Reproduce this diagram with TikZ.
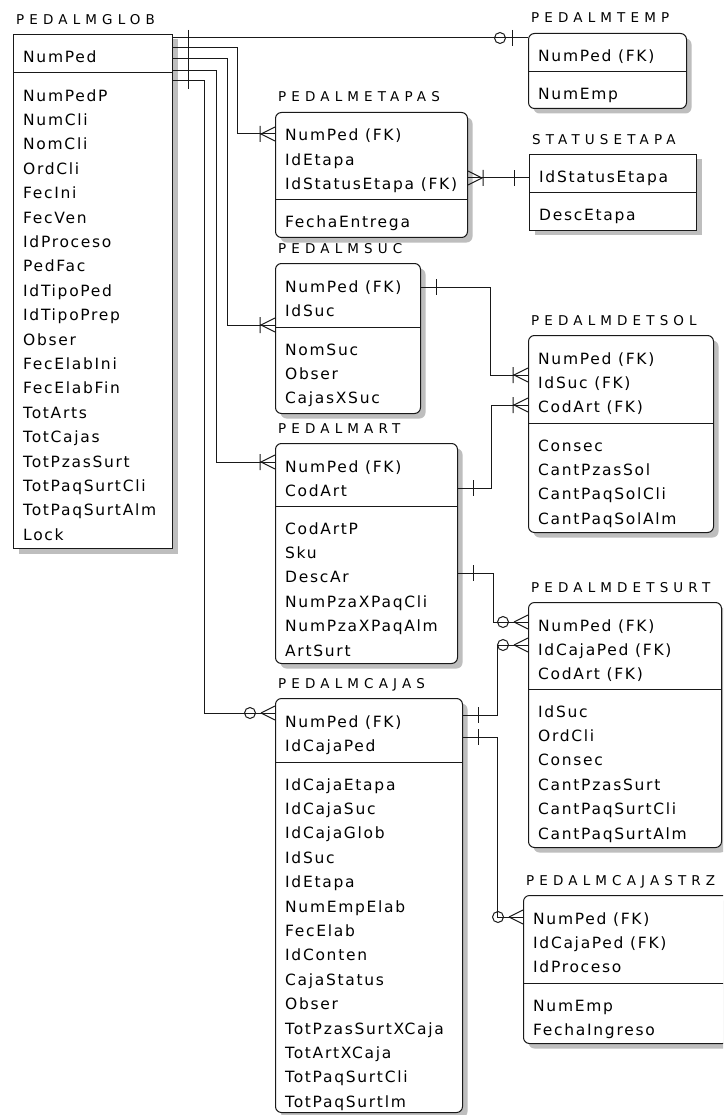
\documentclass[tikz,border=0pt]{standalone}
\usepackage{fontspec}
\usepackage{tikz}
\usetikzlibrary{positioning, calc, shadows}
\newfontfamily\erfont{DejaVu Sans}[LetterSpace=11]
\newfontfamily\erttlfont{DejaVu Sans}[LetterSpace=38]
\newcommand{\attrsize}{\erfont\fontsize{15.5}{24.4}\selectfont}
\newcommand{\ttlsize}{\erttlfont\fontsize{13.5}{16}\selectfont}
\definecolor{erline}{RGB}{25,25,25}
\definecolor{ershadow}{RGB}{190,190,190}

\tikzset{
  ent/.style={draw=erline, line width=1pt, fill=white, rounded corners=6pt, anchor=north west, inner sep=0pt,
    drop shadow={shadow xshift=5pt, shadow yshift=-5pt, fill=ershadow, opacity=1}},
  indep/.style={ent, sharp corners},
  ttl/.style={font=\ttlsize, anchor=base west, inner sep=0pt},
  % multi-line attribute lists sit on the baseline of their last line
  attr/.style={font=\attrsize, anchor=base west, align=left, inner sep=0pt},
  rel/.style={draw=erline, line width=1pt},
  % relationship ends
  onebar/.pic={\draw[rel] (15,-8) -- (15,8);},
  crowone/.pic={\draw[rel] (-14,0) -- (0,-7) (-14,0) -- (0,7) (-15,-8) -- (-15,8);},
  crowzero/.pic={\draw[rel] (-14,0) -- (0,-7) (-14,0) -- (0,7); \draw[rel] (-25,0) circle (5.5);},
  zeroone/.pic={\draw[rel] (-16,-8) -- (-16,8); \draw[rel] (-28,0) circle (5.5);}
}

\begin{document}
\begin{tikzpicture}[x=1pt, y=-1pt]
  \fill[white] (0,0) rectangle (723,1115);
  \clip (0,0) rectangle (723,1115);

  % PEDALMGLOB
  \node[indep, minimum width=159, minimum height=514] (glob) at (13,34) {};
  \node[ttl] (globt) at ([shift={(3,-9)}]glob.north west) {PEDALMGLOB};
  \draw[rel] ([yshift=-39pt]glob.north west) -- ([yshift=-39pt]glob.north east);
  \node[attr] (globk) at ([shift={(10,29)}]glob.north west) {NumPed};
  \node[attr] (globa) at ([shift={(10,506.2)}]glob.north west) {NumPedP\\NumCli\\NomCli\\OrdCli\\FecIni\\FecVen\\IdProceso\\PedFac\\IdTipoPed\\IdTipoPrep\\Obser\\FecElabIni\\FecElabFin\\TotArts\\TotCajas\\TotPzasSurt\\TotPaqSurtCli\\TotPaqSurtAlm\\Lock};

  % PEDALMTEMP
  \node[ent, minimum width=158, minimum height=75] (temp) at (528,33) {};
  \node[ttl] (tempt) at ([shift={(3,-10)}]temp.north west) {PEDALMTEMP};
  \draw[rel] ([yshift=-39pt]temp.north west) -- ([yshift=-39pt]temp.north east);
  \node[attr] (tempk) at ([shift={(10,29)}]temp.north west) {NumPed (FK)};
  \node[attr] (tempa) at ([shift={(10,67)}]temp.north west) {NumEmp};

  % PEDALMETAPAS
  \node[ent, minimum width=192, minimum height=125] (etapas) at (275,112) {};
  \node[ttl] (etapast) at ([shift={(3,-10)}]etapas.north west) {PEDALMETAPAS};
  \draw[rel] ([yshift=-88pt]etapas.north west) -- ([yshift=-88pt]etapas.north east);
  \node[attr] (etapask) at ([shift={(10,77.8)}]etapas.north west) {NumPed (FK)\\IdEtapa\\IdStatusEtapa (FK)};
  \node[attr] (etapasa) at ([shift={(10,116)}]etapas.north west) {FechaEntrega};

  % STATUSETAPA
  \node[indep, minimum width=167, minimum height=76] (status) at (529,154) {};
  \node[ttl] (statust) at ([shift={(3,-9)}]status.north west) {STATUSETAPA};
  \draw[rel] ([yshift=-39pt]status.north west) -- ([yshift=-39pt]status.north east);
  \node[attr] (statusk) at ([shift={(10,29)}]status.north west) {IdStatusEtapa};
  \node[attr] (statusa) at ([shift={(10,67)}]status.north west) {DescEtapa};

  % PEDALMSUC
  \node[ent, minimum width=145, minimum height=150] (suc) at (275,263) {};
  \node[ttl] (suct) at ([shift={(3,-9)}]suc.north west) {PEDALMSUC};
  \draw[rel] ([yshift=-64pt]suc.north west) -- ([yshift=-64pt]suc.north east);
  \node[attr] (suck) at ([shift={(10,53.4)}]suc.north west) {NumPed (FK)\\IdSuc};
  \node[attr] (suca) at ([shift={(10,140.8)}]suc.north west) {NomSuc\\Obser\\CajasXSuc};

  % PEDALMDETSOL
  \node[ent, minimum width=185, minimum height=197] (detsol) at (528,335) {};
  \node[ttl] (detsolt) at ([shift={(3,-10)}]detsol.north west) {PEDALMDETSOL};
  \draw[rel] ([yshift=-88pt]detsol.north west) -- ([yshift=-88pt]detsol.north east);
  \node[attr] (detsolk) at ([shift={(10,77.8)}]detsol.north west) {NumPed (FK)\\IdSuc (FK)\\CodArt (FK)};
  \node[attr] (detsola) at ([shift={(10,189.2)}]detsol.north west) {Consec\\CantPzasSol\\CantPaqSolCli\\CantPaqSolAlm};

  % PEDALMART
  \node[ent, minimum width=182, minimum height=220] (art) at (275,443) {};
  \node[ttl] (artt) at ([shift={(3,-10)}]art.north west) {PEDALMART};
  \draw[rel] ([yshift=-63pt]art.north west) -- ([yshift=-63pt]art.north east);
  \node[attr] (artk) at ([shift={(10,53.4)}]art.north west) {NumPed (FK)\\CodArt};
  \node[attr] (arta) at ([shift={(10,213)}]art.north west) {CodArtP\\Sku\\DescAr\\NumPzaXPaqCli\\NumPzaXPaqAlm\\ArtSurt};

  % PEDALMDETSURT
  \node[ent, minimum width=193, minimum height=245] (detsurt) at (528,602) {};
  \node[ttl] (detsurtt) at ([shift={(3,-10)}]detsurt.north west) {PEDALMDETSURT};
  \draw[rel] ([yshift=-87pt]detsurt.north west) -- ([yshift=-87pt]detsurt.north east);
  \node[attr] (detsurtk) at ([shift={(10,77.8)}]detsurt.north west) {NumPed (FK)\\IdCajaPed (FK)\\CodArt (FK)};
  \node[attr] (detsurta) at ([shift={(10,237)}]detsurt.north west) {IdSuc\\OrdCli\\Consec\\CantPzasSurt\\CantPaqSurtCli\\CantPaqSurtAlm};

  % PEDALMCAJAS
  \node[ent, minimum width=187, minimum height=414] (cajas) at (275,698) {};
  \node[ttl] (cajast) at ([shift={(3,-10)}]cajas.north west) {PEDALMCAJAS};
  \draw[rel] ([yshift=-64pt]cajas.north west) -- ([yshift=-64pt]cajas.north east);
  \node[attr] (cajask) at ([shift={(10,53.4)}]cajas.north west) {NumPed (FK)\\IdCajaPed};
  \node[attr] (cajasa) at ([shift={(10,409.2)}]cajas.north west) {IdCajaEtapa\\IdCajaSuc\\IdCajaGlob\\IdSuc\\IdEtapa\\NumEmpElab\\FecElab\\IdConten\\CajaStatus\\Obser\\TotPzasSurtXCaja\\TotArtXCaja\\TotPaqSurtCli\\TotPaqSurtlm};

  % PEDALMCAJASTRZ
  \node[ent, minimum width=205, minimum height=148] (trz) at (523,895) {};
  \node[ttl] (trzt) at ([shift={(3,-10)}]trz.north west) {PEDALMCAJASTRZ};
  \draw[rel] ([yshift=-88pt]trz.north west) -- ([yshift=-88pt]trz.north east);
  \node[attr] (trzk) at ([shift={(10,77.8)}]trz.north west) {NumPed (FK)\\IdCajaPed (FK)\\IdProceso};
  \node[attr] (trza) at ([shift={(10,140.4)}]trz.north west) {NumEmp\\FechaIngreso};

  % relationships from PEDALMGLOB
  \draw[rel] ([yshift=-4pt]glob.north east) coordinate (g1) -- (g1 -| temp.west) coordinate (t1);
  \draw[rel] ([yshift=-14pt]glob.north east) coordinate (g2) -| ([shift={(-38,22)}]etapas.north west) -- ([yshift=-22pt]etapas.north west) coordinate (e1);
  \draw[rel] ([yshift=-25pt]glob.north east) coordinate (g3) -| ([shift={(-48,62)}]suc.north west) -- ([yshift=-62pt]suc.north west) coordinate (s1);
  \draw[rel] ([yshift=-37pt]glob.north east) coordinate (g4) -| ([shift={(-59,19)}]art.north west) -- ([yshift=-19pt]art.north west) coordinate (a1);
  \draw[rel] ([yshift=-47pt]glob.north east) coordinate (g5) -| ([shift={(-71,15)}]cajas.north west) -- ([yshift=-15pt]cajas.north west) coordinate (c1);
  \foreach \g in {g1,g2,g3,g4,g5} \pic at (\g) {onebar};
  \pic at (t1) {zeroone};
  \pic at (e1) {crowone};
  \pic at (s1) {crowone};
  \pic at (a1) {crowone};
  \pic at (c1) {crowzero};

  % PEDALMETAPAS - STATUSETAPA
  \draw[rel] ([yshift=-66pt]etapas.north east) coordinate (e2) -- (e2 -| status.west) coordinate (st1);
  \pic[rotate=180] at (e2) {crowone};
  \pic[rotate=180] at (st1) {onebar};

  % PEDALMSUC / PEDALMART - PEDALMDETSOL
  \draw[rel] ([yshift=-24pt]suc.north east) coordinate (s2) -| ([shift={(-38,40)}]detsol.north west) -- ([yshift=-40pt]detsol.north west) coordinate (d1);
  \draw[rel] ([yshift=-45pt]art.north east) coordinate (a2) -| ([shift={(-37,70)}]detsol.north west) -- ([yshift=-70pt]detsol.north west) coordinate (d2);
  \pic at (s2) {onebar};
  \pic at (a2) {onebar};
  \pic at (d1) {crowone};
  \pic at (d2) {crowone};

  % PEDALMART / PEDALMCAJAS - PEDALMDETSURT
  \draw[rel] ([yshift=-130pt]art.north east) coordinate (a3) -| ([shift={(-35,20)}]detsurt.north west) -- ([yshift=-20pt]detsurt.north west) coordinate (u1);
  \draw[rel] ([yshift=-17pt]cajas.north east) coordinate (c2) -| ([shift={(-31,43)}]detsurt.north west) -- ([yshift=-43pt]detsurt.north west) coordinate (u2);
  \pic at (a3) {onebar};
  \pic at (c2) {onebar};
  \pic at (u1) {crowzero};
  \pic at (u2) {crowzero};

  % PEDALMCAJAS - PEDALMCAJASTRZ
  \draw[rel] ([yshift=-39pt]cajas.north east) coordinate (c3) -| ([shift={(-26,22)}]trz.north west) -- ([yshift=-22pt]trz.north west) coordinate (z1);
  \pic at (c3) {onebar};
  \pic at (z1) {crowzero};
\end{tikzpicture}
\end{document}
